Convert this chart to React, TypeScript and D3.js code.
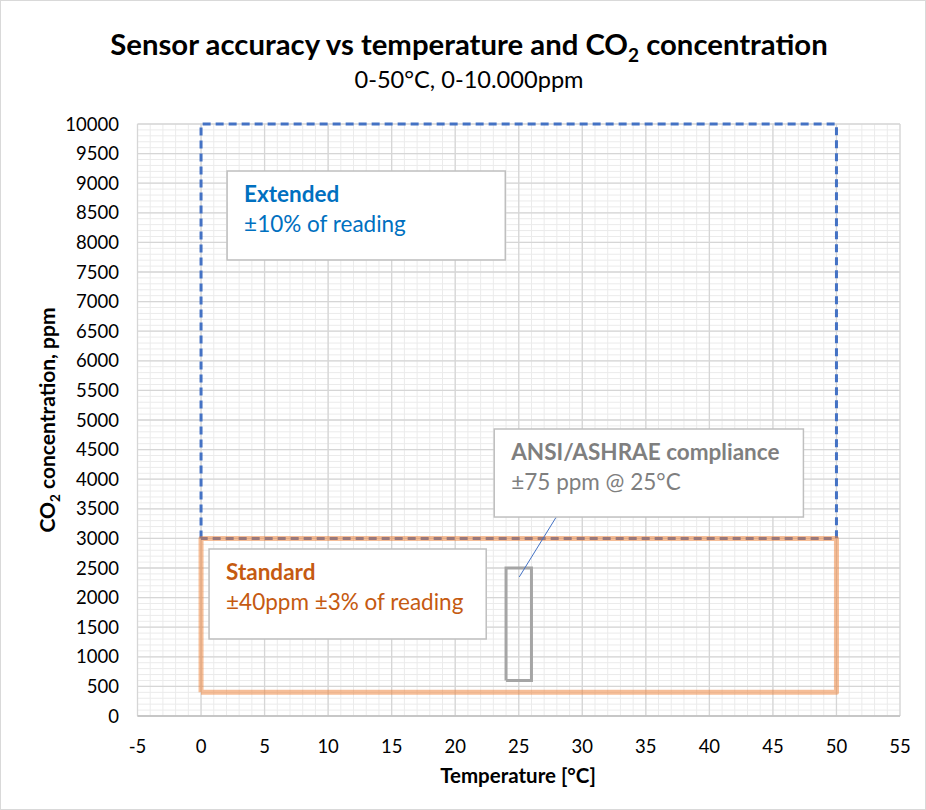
import * as d3 from 'd3'
import { useEffect } from 'react'

// axis ranges / ticks
const xDomain: [number, number] = [-5, 55]
const yDomain: [number, number] = [0, 10000]
const xTickValues = [-5, 0, 5, 10, 15, 20, 25, 30, 35, 40, 45, 50, 55]
const yTickValues = [0, 500, 1000, 1500, 2000, 2500, 3000, 3500, 4000, 4500, 5000, 5500, 6000, 6500, 7000, 7500, 8000, 8500, 9000, 9500, 10000]

// series (closed outlines)
const extendedX = [0, 0, 50, 50, 0]
const extendedY = [3000, 10000, 10000, 3000, 3000]
const standardX = [0, 0, 50, 50, 0]
const standardY = [400, 3000, 3000, 400, 400]
const ansiX = [24, 24, 26, 26, 24]
const ansiY = [600, 2500, 2500, 600, 600]

const W = 926
const H = 810
const FONT = 'Lato, "Open Sans", sans-serif'

export default function App() {
  useEffect(() => {
    document.body.style.margin = '0'
  }, [])

  const x = d3.scaleLinear().domain(xDomain).range([137.5, 900])
  const y = d3.scaleLinear().domain(yDomain).range([716, 124])

  const line = d3.line<[number, number]>()
    .x(d => x(d[0]))
    .y(d => y(d[1]))

  const zip = (xs: number[], ys: number[]) => xs.map((v, i) => [v, ys[i]] as [number, number])

  const minorX = d3.range(xDomain[0], xDomain[1] + 0.001, 1)
  const minorY = d3.range(yDomain[0], yDomain[1] + 1, 100)

  // text boxes, in data units
  const boxes = [
    { x0: 2.05, x1: 23.94, y0: 9206, y1: 7703, head: 'Extended', body: '±10% of reading', color: '#0070C0' },
    { x0: 0.63, x1: 22.44, y0: 2821, y1: 1301, head: 'Standard', body: '±40ppm ±3% of reading', color: '#C55A11' },
    { x0: 23.07, x1: 47.4, y0: 4848, y1: 3361, head: 'ANSI/ASHRAE compliance', body: '±75 ppm @ 25°C', color: '#7F7F7F' },
  ]

  return (
    <svg width={W} height={H} style={{ display: 'block' }} fontFamily={FONT}>
      <rect x={0.5} y={0.5} width={W - 1} height={H - 1} fill="#fff" stroke="#d9d9d9" />

      {/* minor grid */}
      <g stroke="#ebebeb" strokeWidth={1}>
        {minorX.map(v => (
          <line key={'mx' + v} x1={x(v)} x2={x(v)} y1={y(yDomain[0])} y2={y(yDomain[1])} />
        ))}
        {minorY.map(v => (
          <line key={'my' + v} x1={x(xDomain[0])} x2={x(xDomain[1])} y1={y(v)} y2={y(v)} />
        ))}
      </g>
      {/* major grid */}
      <g stroke="#d6d6d6" strokeWidth={1.3}>
        {xTickValues.map(v => (
          <line key={'gx' + v} x1={x(v)} x2={x(v)} y1={y(yDomain[0])} y2={y(yDomain[1])} />
        ))}
        {yTickValues.map(v => (
          <line key={'gy' + v} x1={x(xDomain[0])} x2={x(xDomain[1])} y1={y(v)} y2={y(v)} />
        ))}
      </g>
      <line x1={x(xDomain[0])} x2={x(xDomain[1])} y1={y(0)} y2={y(0)} stroke="#bfbfbf" strokeWidth={1.5} />

      {/* series */}
      <path d={line(zip(extendedX, extendedY)) ?? ''} fill="none" stroke="#4472C4" strokeWidth={3} strokeDasharray="8 5" />
      <path d={line(zip(standardX, standardY)) ?? ''} fill="none" stroke="#ED7D31" strokeOpacity={0.5} strokeWidth={5} strokeLinejoin="round" />
      <path d={line(zip(ansiX, ansiY)) ?? ''} fill="none" stroke="#A5A5A5" strokeWidth={3} />

      {/* callout */}
      <line x1={x(28.58)} y1={y(3581)} x2={x(25.04)} y2={y(2348)} stroke="#4472C4" strokeWidth={1} />

      {boxes.map(b => (
        <g key={b.head}>
          <rect x={x(b.x0)} y={y(b.y0)} width={x(b.x1) - x(b.x0)} height={y(b.y1) - y(b.y0)}
            fill="#fff" stroke="#bfbfbf" strokeWidth={1.5} />
          <text x={x(b.x0) + 17} y={y(b.y0) + 31} fill={b.color} fontSize={22.5} fontWeight="bold">{b.head}</text>
          <text x={x(b.x0) + 17} y={y(b.y0) + 61} fill={b.color} fontSize={22.5}>{b.body}</text>
        </g>
      ))}

      {/* axes labels */}
      <g fontSize={18.5} fill="#000">
        {yTickValues.map(v => (
          <text key={'yt' + v} x={119} y={y(v) + 6.5} textAnchor="end">{v}</text>
        ))}
        {xTickValues.map(v => (
          <text key={'xt' + v} x={x(v)} y={753} textAnchor="middle">{v}</text>
        ))}
      </g>

      <text x={518} y={783} textAnchor="middle" fontSize={20.5} fontWeight="bold">Temperature [°C]</text>
      <text transform={`translate(55, ${(y(0) + y(10000)) / 2}) rotate(-90)`} textAnchor="middle" fontSize={21} fontWeight="bold">
        CO<tspan fontSize={13.5} dy={5}>2</tspan><tspan dy={-5}> concentration, ppm</tspan>
      </text>

      <text x={469} y={55} textAnchor="middle" fontSize={29.3} fontWeight="bold">
        Sensor accuracy vs temperature and CO<tspan fontSize={19} dy={7}>2</tspan><tspan dy={-7}> concentration</tspan>
      </text>
      <text x={469} y={88} textAnchor="middle" fontSize={23.6}>0-50°C, 0-10.000ppm</text>
    </svg>
  )
}
